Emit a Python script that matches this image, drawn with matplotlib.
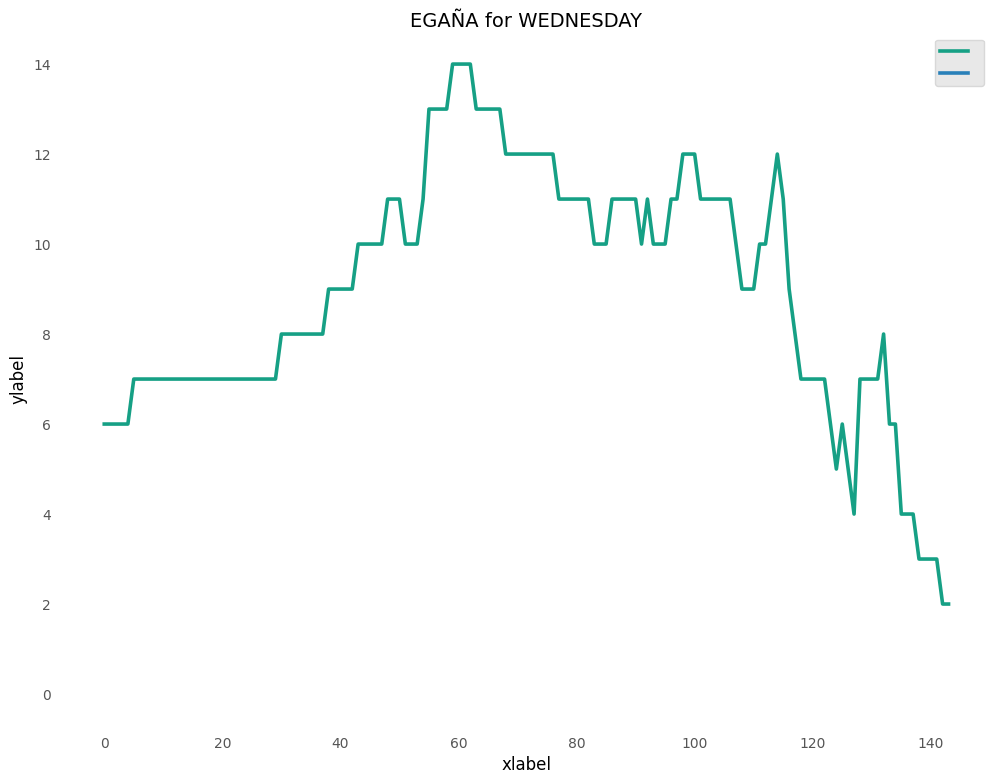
import matplotlib
matplotlib.use("agg")
import matplotlib.pyplot as plt

# values, one per x step (0..143)
hours = list(range(144))
counts = [
    6, 6, 6, 6, 6,
    7, 7, 7, 7, 7, 7, 7, 7, 7, 7, 7, 7, 7, 7, 7, 7, 7, 7, 7, 7, 7, 7, 7, 7, 7,
    8, 8, 8, 8, 8, 8, 8, 8,
    9, 9, 9, 9, 9,
    10, 10, 10, 10, 10,
    11, 11, 11,
    10, 10, 10,
    11,
    13, 13, 13, 13,
    14, 14, 14, 14,
    13, 13, 13, 13, 13,
    12, 12, 12, 12, 12, 12, 12, 12, 12,
    11, 11, 11, 11, 11, 11,
    10, 10, 10,
    11, 11, 11, 11, 11,
    10, 11,
    10, 10, 10,
    11, 11,
    12, 12, 12,
    11, 11, 11, 11, 11, 11,
    10,
    9, 9, 9,
    10, 10,
    11, 12, 11, 9, 8,
    7, 7, 7, 7, 7,
    6, 5, 6, 5, 4,
    7, 7, 7, 7,
    8,
    6, 6,
    4, 4, 4,
    3, 3, 3, 3,
    2, 2,
]
# second series shows only in the legend
other_hours = []
other_counts = []

fig = plt.figure(figsize=(10.04, 7.83), dpi=100)
ax = fig.add_axes([0.0618, 0.0734, 0.925, 0.885])

ax.plot(hours, counts, color='#16a085', linewidth=2.6, label=' ')
ax.plot(other_hours, other_counts, color='#2980b9', linewidth=2.6, label=' ')

ax.set_xlim(-7.15, 150.15)
ax.set_ylim(-0.7, 14.7)
ax.set_xticks(range(0, 141, 20))
ax.set_yticks(range(0, 15, 2))

for s in ax.spines.values():
    s.set_visible(False)
ax.tick_params(length=0, labelsize=10, labelcolor='#555555', pad=8)

ax.set_title('EGAÑA for WEDNESDAY', fontsize=14, pad=4)
ax.set_xlabel('xlabel', fontsize=12, labelpad=4)
ax.set_ylabel('ylabel', fontsize=12, labelpad=4)

leg = ax.legend(loc='upper right', fontsize=10, handlelength=2.0,
                handletextpad=0.45, borderpad=0.36, labelspacing=0.58,
                fancybox=True, framealpha=1.0)
leg.get_frame().set_facecolor('#e8e8e8')
leg.get_frame().set_edgecolor('#d8d8d8')

fig.savefig('out.png', dpi=100)
